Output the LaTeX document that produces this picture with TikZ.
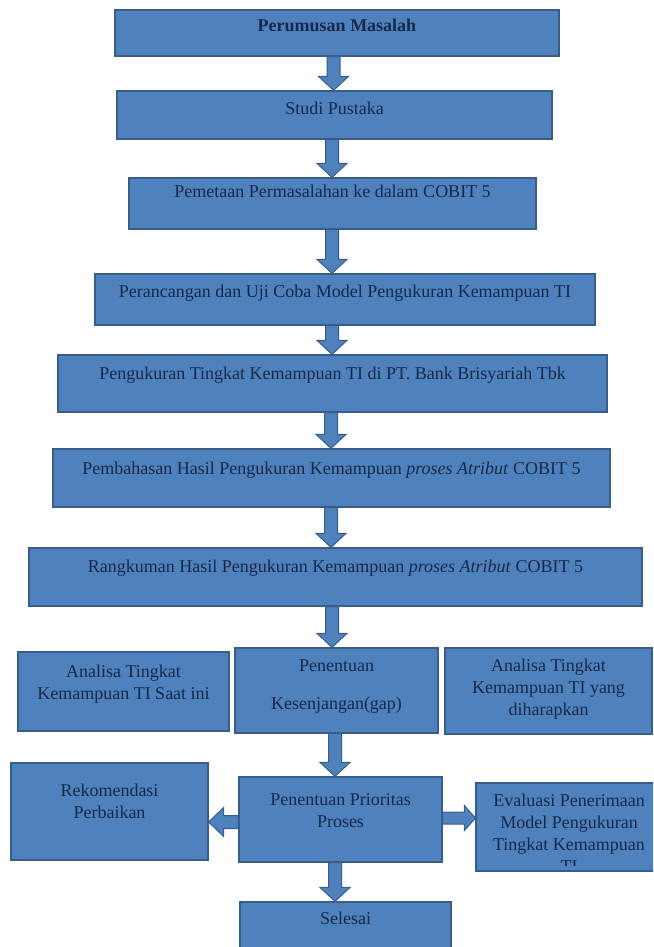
\documentclass[tikz,border=0pt]{standalone}
\usepackage{fontspec}
\setmainfont{Liberation Serif}
\usetikzlibrary{calc}

\definecolor{boxblue}{HTML}{4F81BD}
\definecolor{boxedge}{HTML}{385D8A}
\definecolor{txtblue}{HTML}{16294A}

\tikzset{
    box/.style={draw=boxedge, fill=boxblue, line width=1.2pt, inner sep=0pt, text=txtblue,
        font=\fontsize{18pt}{22pt}\selectfont},
    boxlabel/.style={inner sep=0pt, text=txtblue, font=\fontsize{18pt}{22pt}\selectfont},
    blockarrow/.style={draw=boxedge, fill=boxblue, line width=1pt, line join=miter}
}

\newcommand{\boxtext}[2][3.5pt]{\raisebox{#1}[0pt][0pt]{\begin{tabular}{@{}c@{}}#2\end{tabular}}}
\newcommand{\arrowdown}[3]{%
    \draw[blockarrow] let \p1=(#1.south), \p2=(#2.north) in
        (#3pt-6.5pt,\y1) -- (#3pt-6.5pt,\y2+14pt) -- (#3pt-15pt,\y2+14pt) -- (#3pt,\y2)
        -- (#3pt+15pt,\y2+14pt) -- (#3pt+6.5pt,\y2+14pt) -- (#3pt+6.5pt,\y1) -- cycle;}
\newcommand{\arrowleft}[3]{%
    \draw[blockarrow] let \p1=(#1.west), \p2=(#2.east) in
        (\x1,-#3pt+6.5pt) -- (\x2+15pt,-#3pt+6.5pt) -- (\x2+15pt,-#3pt+14.5pt) -- (\x2,-#3pt)
        -- (\x2+15pt,-#3pt-14.5pt) -- (\x2+15pt,-#3pt-6.5pt) -- (\x1,-#3pt-6.5pt) -- cycle;}
\newcommand{\arrowright}[3]{%
    \draw[blockarrow] let \p1=(#1.east), \p2=(#2.west) in
        (\x1,-#3pt+6pt) -- (\x2-11pt,-#3pt+6pt) -- (\x2-11pt,-#3pt+12.5pt) -- (\x2,-#3pt)
        -- (\x2-11pt,-#3pt-12.5pt) -- (\x2-11pt,-#3pt-6pt) -- (\x1,-#3pt-6pt) -- cycle;}

\begin{document}
\begin{tikzpicture}[x=1pt, y=-1pt]
    \useasboundingbox (0,0) rectangle (653,947);
    \clip (0,0) rectangle (653,947);

    \node[box, minimum width=444pt, minimum height=46pt] (masalah) at (337,33)
        {\boxtext[1.5pt]{\textbf{Perumusan Masalah}}};
    \node[box, minimum width=435pt, minimum height=48pt] (pustaka) at (334.5,115)
        {\boxtext[0.5pt]{Studi Pustaka}};
    \node[box, minimum width=407pt, minimum height=51pt] (pemetaan) at (332.5,203.5)
        {\boxtext[6pt]{Pemetaan Permasalahan ke dalam COBIT 5}};
    \node[box, minimum width=500pt, minimum height=51pt] (rancang) at (345,299.5)
        {\boxtext[2pt]{Perancangan dan Uji Coba Model Pengukuran Kemampuan TI}};
    \node[box, minimum width=549pt, minimum height=57pt] (ukur) at (332.5,383.5)
        {\boxtext[4pt]{Pengukuran Tingkat Kemampuan TI di PT. Bank Brisyariah Tbk}};
    \node[box, minimum width=557pt, minimum height=58pt] (bahas) at (331.5,478)
        {\boxtext[3.5pt]{Pembahasan Hasil Pengukuran Kemampuan \textit{proses Atribut} COBIT 5}};
    \node[box, minimum width=613pt, minimum height=58pt] (rangkum) at (335.5,577)
        {\boxtext[4.5pt]{Rangkuman Hasil Pengukuran Kemampuan \textit{proses Atribut} COBIT 5}};

    \node[box, minimum width=211pt, minimum height=79pt] (analisaini) at (123.5,691.5)
        {\boxtext[3pt]{Analisa Tingkat\\Kemampuan TI Saat ini}};
    \node[box, minimum width=203pt, minimum height=85pt] (gap) at (336.5,690.5)
        {\boxtext[0pt]{Penentuan\\[16pt]Kesenjangan(gap)}};
    \node[box, minimum width=207pt, minimum height=86pt] (analisaharap) at (548.5,691)
        {\boxtext[-2pt]{Analisa Tingkat\\Kemampuan TI yang\\diharapkan}};

    \node[box, minimum width=197pt, minimum height=97pt] (rekomendasi) at (109.5,811.5)
        {\boxtext[4.5pt]{Rekomendasi\\Perbaikan}};
    \node[box, minimum width=203pt, minimum height=85pt] (prioritas) at (340.5,819.5)
        {\boxtext[3.5pt]{Penentuan Prioritas\\Proses}};
    \node[box, minimum width=186pt, minimum height=88pt] (evaluasi) at (569,827)
        {\boxtext[-1.2pt]{Evaluasi Penerimaan\\Model Pengukuran\\Tingkat Kemampuan}};
    \begin{scope}
        \clip (evaluasi.north west) rectangle ([yshift=6pt]evaluasi.south east);
        \node[boxlabel] (evaluasiti) at ([yshift=-40pt]evaluasi.center) {TI};
    \end{scope}

    \node[box, minimum width=211pt, minimum height=58pt] (selesai) at (345.5,931)
        {\boxtext[6.5pt]{Selesai}};

    \arrowdown{masalah}{pustaka}{333.5}
    \arrowdown{pustaka}{pemetaan}{332}
    \arrowdown{pemetaan}{rancang}{332}
    \arrowdown{rancang}{ukur}{332}
    \arrowdown{ukur}{bahas}{331}
    \arrowdown{bahas}{rangkum}{331}
    \arrowdown{rangkum}{gap}{332}
    \arrowdown{gap}{prioritas}{335}
    \arrowdown{prioritas}{selesai}{335}
    \arrowleft{prioritas}{rekomendasi}{822}
    \arrowright{prioritas}{evaluasi}{818}
\end{tikzpicture}
\end{document}
